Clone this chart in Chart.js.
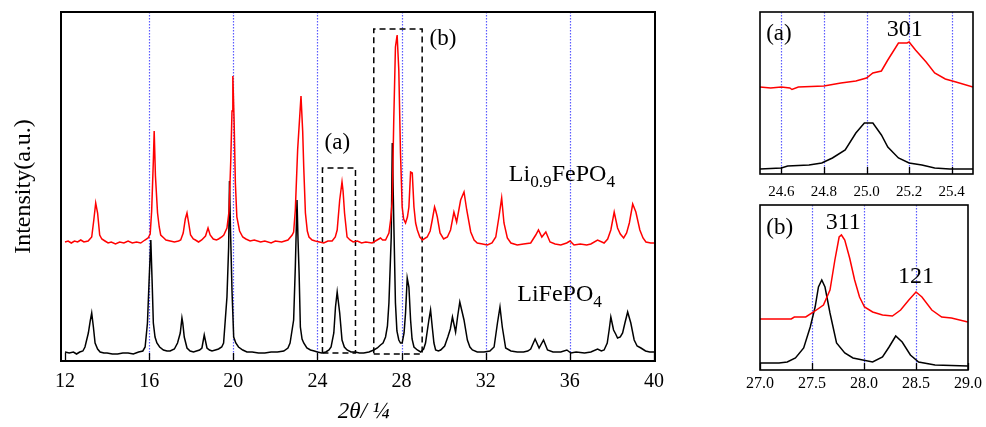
<!DOCTYPE html>
<html>
<head>
<meta charset="utf-8">
<script src="https://cdn.jsdelivr.net/npm/chart.js@4.4.1/dist/chart.umd.min.js"></script>
<style>
  html, body { margin: 0; padding: 0; background: #fff; }
  #wrap { position: relative; width: 986px; height: 427px; overflow: hidden; }
  canvas { position: absolute; }
</style>
</head>
<body>
<div id="wrap">
  <canvas id="main" width="700" height="427" style="left:0px;top:0px"></canvas>
  <canvas id="insetA" width="246" height="205" style="left:740px;top:0px"></canvas>
  <canvas id="insetB" width="246" height="232" style="left:740px;top:195px"></canvas>
</div>
<script>
// ---- data: [2theta, intensity a.u.] ----
const mainTicks = [12, 16, 20, 24, 28, 32, 36, 40];
const mainGrid = [16, 20, 24, 28, 32, 36];

const li09 = [[12.0,119],[12.15,120],[12.3,118],[12.45,120],[12.6,119],[12.75,121],[12.9,119],[13.1,120],[13.27,124],[13.37,141],
  [13.46,158],[13.55,148],[13.65,126],[13.75,122],[13.9,120],[14.05,118],[14.2,119],[14.4,117],[14.6,119],[14.8,118],[15.0,120],
  [15.2,118],[15.4,119],[15.6,118],[15.8,121],[15.95,123],[16.05,127],[16.12,150],[16.2,200],[16.24,230],[16.3,185],[16.4,148],
  [16.48,134],[16.55,126],[16.7,123],[16.8,121],[17.0,120],[17.2,119],[17.4,120],[17.5,121],[17.62,128],[17.72,142],[17.8,148],
  [17.88,138],[17.97,126],[18.1,122],[18.2,121],[18.35,119],[18.5,121],[18.68,125],[18.8,133],[18.9,126],[19.05,122],[19.2,121],
  [19.3,122],[19.45,124],[19.55,126],[19.7,133],[19.8,150],[19.88,200],[19.94,250],[19.98,285],[20.04,240],[20.1,178],[20.17,144],
  [20.3,130],[20.45,124],[20.6,122],[20.8,120],[21.0,121],[21.3,119],[21.5,120],[21.8,118],[22.0,120],[22.3,119],[22.45,120],[22.6,121],
  [22.8,126],[22.87,129],[22.95,151],[23.06,211],[23.22,265],[23.3,230],[23.35,194],[23.43,148],[23.52,130],[23.6,124],[23.75,121],
  [23.9,120],[24.1,119],[24.3,118],[24.5,120],[24.7,120],[24.85,124],[24.94,131],[25.06,161],[25.17,179],[25.22,170],[25.29,148],
  [25.41,124],[25.55,121],[25.7,119],[25.9,120],[26.1,118],[26.3,119],[26.6,118],[26.84,121],[27.0,123],[27.1,121],[27.24,121],
  [27.4,128],[27.48,141],[27.56,161],[27.63,241],[27.71,314],[27.79,326],[27.87,291],[27.95,208],[28.03,154],[28.1,142],[28.19,138],
  [28.28,144],[28.35,154],[28.43,189],[28.51,188],[28.59,154],[28.67,138],[28.75,131],[28.87,124],[28.99,121],[29.22,124],[29.36,130],
  [29.46,141],[29.57,154],[29.63,150],[29.7,144],[29.83,128],[30.0,122],[30.18,124],[30.33,131],[30.49,149],[30.62,139],[30.81,161],
  [30.97,169],[31.1,151],[31.29,129],[31.45,121],[31.6,118],[31.85,117],[32.08,116],[32.3,118],[32.48,124],[32.63,144],[32.76,163],
  [32.87,138],[33.03,123],[33.2,118],[33.5,116],[33.8,117],[34.14,118],[34.38,126],[34.51,131],[34.67,124],[34.86,129],[35.06,119],
  [35.3,117],[35.57,116],[35.85,118],[36.01,120],[36.2,116],[36.5,117],[36.8,116],[37.0,117],[37.32,121],[37.63,118],[37.8,122],
  [37.95,131],[38.11,149],[38.27,133],[38.4,127],[38.56,123],[38.7,128],[38.83,138],[38.99,157],[39.14,149],[39.33,131],[39.48,123],
  [39.62,119],[39.85,118],[40.05,118]];

const lifepo4 = [[12.0,9],[12.2,8],[12.4,9],[12.55,7],[12.7,9],[12.85,10],[12.95,14],[13.11,28],[13.2,40],[13.27,48],[13.35,34],
  [13.43,18],[13.55,12],[13.67,9],[13.85,8],[14.0,8],[14.25,7],[14.5,7],[14.75,8],[15.0,8],[15.25,7],[15.5,9],[15.7,10],[15.81,14],
  [15.92,38],[16.0,81],[16.08,121],[16.14,81],[16.2,38],[16.28,24],[16.37,18],[16.5,14],[16.68,11],[16.85,10],[17.0,10],[17.2,12],
  [17.35,18],[17.48,28],[17.56,43],[17.6,38],[17.67,24],[17.8,13],[17.95,10],[18.11,9],[18.25,10],[18.4,11],[18.51,13],[18.62,26],
  [18.75,13],[18.87,11],[18.99,10],[19.15,11],[19.3,12],[19.45,14],[19.54,18],[19.62,41],[19.7,64],[19.78,114],[19.82,180],[19.87,130],
  [19.94,70],[20.02,24],[20.12,18],[20.25,14],[20.45,11],[20.65,9],[20.9,9],[21.2,8],[21.5,8],[21.8,9],[22.1,9],[22.4,10],[22.6,13],
  [22.7,18],[22.87,41],[22.95,94],[23.03,161],[23.08,120],[23.13,88],[23.19,34],[23.27,22],[23.35,18],[23.5,13],[23.67,11],[23.85,10],
  [24.0,9],[24.2,8],[24.4,9],[24.55,11],[24.65,14],[24.78,28],[24.86,54],[24.94,69],[25.06,48],[25.17,21],[25.28,14],[25.41,11],
  [25.6,9],[25.8,9],[26.0,8],[26.2,8],[26.45,9],[26.68,11],[26.85,13],[27.0,16],[27.12,18],[27.24,24],[27.33,35],[27.4,58],[27.51,124],
  [27.56,218],[27.63,141],[27.71,58],[27.78,30],[27.87,21],[27.95,18],[28.03,18],[28.12,28],[28.19,48],[28.27,83],[28.35,74],[28.43,41],
  [28.5,22],[28.59,14],[28.75,11],[28.91,9],[29.05,12],[29.14,18],[29.3,41],[29.38,51],[29.46,34],[29.54,18],[29.62,11],[29.75,10],
  [29.86,11],[30.05,15],[30.2,24],[30.32,32],[30.42,44],[30.57,29],[30.67,45],[30.77,59],[30.87,50],[30.97,41],[31.13,21],[31.25,14],
  [31.37,11],[31.6,9],[31.92,9],[32.2,10],[32.4,14],[32.56,38],[32.68,54],[32.79,34],[32.95,13],[33.2,10],[33.5,9],[33.8,9],[34.0,10],
  [34.14,12],[34.35,22],[34.54,13],[34.75,21],[34.94,11],[35.2,9],[35.57,9],[35.86,11],[36.05,8],[36.3,9],[36.7,8],[37.0,9],[37.32,12],
  [37.5,10],[37.63,11],[37.78,18],[37.87,31],[37.95,44],[38.08,31],[38.18,27],[38.27,23],[38.4,24],[38.51,28],[38.62,38],[38.75,49],
  [38.9,38],[39.06,21],[39.2,15],[39.38,13],[39.6,10],[39.8,9],[40.05,9]];

// zoom windows marked on the main pattern: [x0, x1, y0, y1]
const boxA = [24.24, 25.81, 8, 193];
const boxB = [26.68, 28.98, 7, 332];

// inset (a): 301 reflection
const ticksA = [24.6, 24.8, 25.0, 25.2, 25.4];
const li09A = [[24.50,87],[24.55,86],[24.60,87],[24.64,86],[24.65,84.5],[24.68,87],[24.80,88],[24.88,91],[24.95,93],[25.00,96],
  [25.03,101],[25.07,103],[25.10,114],[25.15,131],[25.19,131],[25.20,132],[25.23,124],[25.28,112],[25.32,101],[25.37,95],[25.42,92],[25.50,87]];
const lifepo4A = [[24.50,5],[24.60,6],[24.63,8],[24.73,9],[24.79,11],[24.84,16],[24.90,24],[24.95,41],[24.99,51],[25.03,51],
  [25.07,39],[25.10,27],[25.15,16],[25.20,11],[25.26,9],[25.32,6],[25.39,5],[25.50,5]];

// inset (b): 311 and 121 reflections
const ticksB = [27.0, 27.5, 28.0, 28.5, 29.0];
const gridB = [27.5, 28.0, 28.5];
const li09B = [[27.0,51],[27.3,51],[27.33,53],[27.44,53],[27.515,58],[27.61,65],[27.673,80],[27.72,110],[27.761,133],[27.783,135],
  [27.815,130],[27.862,112],[27.91,90],[27.957,73],[28.005,63],[28.083,58],[28.178,55],[28.273,54],[28.352,60],[28.431,70],[28.5,78],
  [28.557,73],[28.652,60],[28.747,53],[28.841,52],[28.999,48]];
const lifepo4B = [[27.0,7],[27.183,7],[27.262,8],[27.341,12],[27.42,22],[27.483,43],[27.53,63],[27.562,83],[27.594,90],[27.625,83],
  [27.673,57],[27.736,27],[27.815,17],[27.894,12],[27.988,10],[28.083,8],[28.178,13],[28.241,23],[28.305,34],[28.367,28],[28.446,15],
  [28.525,8],[28.683,5],[28.999,4]];

// ---- helpers ----
const SERIF = '"Liberation Serif", "Times New Roman", serif';
Chart.defaults.font.family = SERIF;
Chart.defaults.color = '#000';

function rect(b) {
  return [[b[0], b[2]], [b[1], b[2]], [b[1], b[3]], [b[0], b[3]], [b[0], b[2]]];
}

function trace(data, color) {
  return { data: data, borderColor: color, borderWidth: 1.5, pointRadius: 0, fill: false, tension: 0 };
}

function drawRich(ctx, x, y, parts, size, align) {
  let w = 0;
  parts.forEach(p => {
    ctx.font = (p[1] ? size * 0.72 : size) + 'px ' + SERIF;
    w += ctx.measureText(p[0]).width;
  });
  let cx = align === 'center' ? x - w / 2 : x;
  parts.forEach(p => {
    const s = p[1] ? size * 0.72 : size;
    ctx.font = s + 'px ' + SERIF;
    ctx.fillText(p[0], cx, p[1] ? y + size * 0.31 : y);
    cx += ctx.measureText(p[0]).width;
  });
}

// frame, inner ticks, dotted guide lines and text labels
const framePlugin = {
  id: 'frame',
  beforeDatasetsDraw(chart, args, o) {
    const { ctx, chartArea: a, scales: { x } } = chart;
    ctx.save();
    ctx.strokeStyle = 'rgb(90,90,255)';
    ctx.lineWidth = 1.2;
    ctx.setLineDash([1.5, 1.5]);
    o.grid.forEach(v => {
      const px = Math.round(x.getPixelForValue(v)) + 0.5;
      ctx.beginPath(); ctx.moveTo(px, a.top); ctx.lineTo(px, a.bottom); ctx.stroke();
    });
    ctx.restore();
  },
  afterDatasetsDraw(chart, args, o) {
    const { ctx, chartArea: a, scales: { x, y } } = chart;
    ctx.save();
    ctx.strokeStyle = '#000';
    ctx.lineWidth = 1.3;
    x.ticks.forEach(t => {
      const px = Math.round(x.getPixelForValue(t.value)) + 0.5;
      ctx.beginPath(); ctx.moveTo(px, a.bottom); ctx.lineTo(px, a.bottom - o.tick); ctx.stroke();
    });
    ctx.lineWidth = o.width;
    ctx.strokeRect(a.left, a.top, a.right - a.left, a.bottom - a.top);
    ctx.fillStyle = '#000';
    ctx.textBaseline = 'middle';
    ctx.textAlign = 'left';
    o.labels.forEach(l => {
      drawRich(ctx, x.getPixelForValue(l.x), y.getPixelForValue(l.y), l.parts, l.size, l.align);
    });
    ctx.restore();
  }
};

function xScale(min, max, ticks, size, pad, height, fmt) {
  return {
    type: 'linear', min: min, max: max,
    grid: { display: false, drawTicks: false },
    border: { display: false },
    afterBuildTicks: s => { s.ticks = ticks.map(v => ({ value: v })); },
    afterFit: s => { s.height = height; },
    ticks: { font: { size: size }, padding: pad, maxRotation: 0, autoSkip: false, callback: fmt }
  };
}

function yScale(max, width, title) {
  return {
    type: 'linear', min: 0, max: max,
    grid: { display: false, drawTicks: false },
    border: { display: false },
    ticks: { display: false },
    afterFit: s => { s.width = width; },
    title: title
  };
}

const common = {
  responsive: false,
  animation: false,
  events: [],
  plugins: { legend: { display: false }, tooltip: { enabled: false } }
};

// ---- main pattern ----
new Chart(document.getElementById('main'), {
  type: 'line',
  data: {
    datasets: [
      trace(li09, 'rgb(255,0,0)'),
      trace(lifepo4, '#000'),
      Object.assign(trace(rect(boxA), '#000'), { borderDash: [6, 4], borderWidth: 1.5 }),
      Object.assign(trace(rect(boxB), '#000'), { borderDash: [6, 4], borderWidth: 1.5 })
    ]
  },
  options: Object.assign({}, common, {
    layout: { padding: { left: 0, top: 12, right: 45, bottom: 0 } },
    scales: {
      x: Object.assign(xScale(11.81, 40.05, mainTicks, 20, 9, 66), {
        title: { display: true, text: '  2θ/ ¼', font: { size: 23, style: 'italic' }, padding: { top: 0, bottom: 1 } }
      }),
      y: yScale(349, 61, { display: true, text: 'Intensity(a.u.)', font: { size: 24 }, padding: { top: 9, bottom: 0 } })
    },
    plugins: Object.assign({}, common.plugins, {
      frame: {
        grid: mainGrid, tick: 8, width: 2,
        labels: [
          { x: 24.95, y: 218, parts: [['(a)', 0]], size: 23, align: 'center' },
          { x: 29.97, y: 322, parts: [['(b)', 0]], size: 23, align: 'center' },
          { x: 33.1, y: 186, parts: [['Li', 0], ['0.9', 1], ['FePO', 0], ['4', 1]], size: 24, align: 'left' },
          { x: 33.5, y: 66, parts: [['LiFePO', 0], ['4', 1]], size: 24, align: 'left' }
        ]
      }
    })
  }),
  plugins: [framePlugin]
});

// ---- inset (a) ----
new Chart(document.getElementById('insetA'), {
  type: 'line',
  data: { datasets: [trace(li09A, 'rgb(255,0,0)'), trace(lifepo4A, '#000')] },
  options: Object.assign({}, common, {
    layout: { padding: { left: 0, top: 12, right: 13, bottom: 0 } },
    scales: {
      x: xScale(24.5, 25.5, ticksA, 15, 9, 31, v => v.toFixed(1)),
      y: yScale(162, 20, { display: false })
    },
    plugins: Object.assign({}, common.plugins, {
      frame: {
        grid: ticksA, tick: 7, width: 1.6,
        labels: [
          { x: 24.589, y: 140, parts: [['(a)', 0]], size: 23, align: 'center' },
          { x: 25.18, y: 144, parts: [['301', 0]], size: 24, align: 'center' }
        ]
      }
    })
  }),
  plugins: [framePlugin]
});

// ---- inset (b) ----
new Chart(document.getElementById('insetB'), {
  type: 'line',
  data: { datasets: [trace(li09B, 'rgb(255,0,0)'), trace(lifepo4B, '#000')] },
  options: Object.assign({}, common, {
    layout: { padding: { left: 0, top: 10, right: 13, bottom: 0 } },
    scales: {
      x: xScale(27, 29, ticksB, 16, 4, 57, v => v.toFixed(1)),
      y: yScale(165, 20, { display: false })
    },
    plugins: Object.assign({}, common.plugins, {
      frame: {
        grid: gridB, tick: 7, width: 1.6,
        labels: [
          { x: 27.19, y: 142.5, parts: [['(b)', 0]], size: 23, align: 'center' },
          { x: 27.80, y: 147, parts: [['311', 0]], size: 24, align: 'center' },
          { x: 28.50, y: 93, parts: [['121', 0]], size: 24, align: 'center' }
        ]
      }
    })
  }),
  plugins: [framePlugin]
});
</script>
</body>
</html>
